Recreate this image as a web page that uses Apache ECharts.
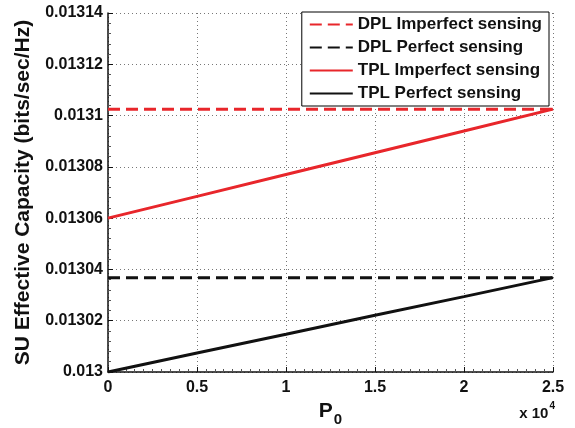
<!DOCTYPE html>
<html lang="en">
<head>
  <meta charset="UTF-8">
  <title>SU Effective Capacity</title>
  <script src="https://cdn.jsdelivr.net/npm/echarts@6/dist/echarts.min.js"></script>
</head>
<body style="margin:0">
<div id="main" style="width: 575px;height: 428px"></div>
<script>
  // P0 in units of 10^4
  const p0 = [0, 0.5, 1, 1.5, 2, 2.5];
  const dplImperfect = [0.0131025, 0.0131025, 0.0131025, 0.0131025, 0.0131025, 0.0131025];
  const dplPerfect = [0.0130368, 0.0130368, 0.0130368, 0.0130368, 0.0130368, 0.0130368];
  const tplImperfect = [0.01306, 0.0130685, 0.013077, 0.0130855, 0.013094, 0.0131025];
  const tplPerfect = [0.013, 0.0130074, 0.0130147, 0.0130221, 0.0130294, 0.0130368];
  const seriesNames = ['DPL Imperfect sensing', 'DPL Perfect sensing', 'TPL Imperfect sensing', 'TPL Perfect sensing'];

  const RED = '#e8262b';
  const font = 'Liberation Sans, Arial, sans-serif';

  function pairs(ys) {
    return p0.map(function (x, i) { return [x, ys[i]]; });
  }

  function lineSeries(name, ys, color, dashed) {
    return {
      name: name,
      type: 'line',
      data: pairs(ys),
      symbol: 'none',
      animation: false,
      lineStyle: { color: color, width: 3, type: dashed ? [12, 6] : 'solid' },
      itemStyle: { color: color }
    };
  }

  var chart = echarts.init(document.getElementById('main'));
  var option = {
    grid: { left: 108, right: 22, top: 13, bottom: 56, outerBoundsMode: 'none', containLabel: false },
    legend: {
      data: seriesNames,
      orient: 'vertical',
      right: 26,
      top: 12,
      padding: [4, 7, 4, 7],
      itemGap: 6,
      itemWidth: 43,
      itemHeight: 17,
      borderColor: '#000',
      borderWidth: 1,
      borderRadius: 0,
      backgroundColor: '#fff',
      itemStyle: { opacity: 0 },
      textStyle: { fontFamily: font, fontWeight: 'bold', fontSize: 17, color: '#111' }
    },
    xAxis: {
      type: 'value',
      min: 0,
      max: 2.5,
      interval: 0.5,
      name: '{p|P}{s|0}',
      nameLocation: 'middle',
      nameGap: 22,
      nameTextStyle: {
        rich: {
          p: { fontFamily: font, fontWeight: 'bold', fontSize: 21, color: '#111' },
          s: { fontFamily: font, fontWeight: 'bold', fontSize: 15, color: '#111', padding: [16, 0, 0, 1] }
        }
      },
      axisLine: { lineStyle: { color: '#111', width: 1.5 } },
      axisTick: { inside: true, length: 5, lineStyle: { color: '#111' } },
      minorTick: { show: true, splitNumber: 10, length: 3, lineStyle: { color: '#555' } },
      axisLabel: { fontFamily: font, fontWeight: 'bold', fontSize: 16, color: '#111', margin: 8 },
      splitLine: { show: true, lineStyle: { color: '#777', type: [1, 3], width: 1 } }
    },
    yAxis: {
      type: 'value',
      min: 0.013,
      max: 0.01314,
      interval: 0.00002,
      name: 'SU Effective Capacity (bits/sec/Hz)',
      nameLocation: 'middle',
      nameGap: 74,
      nameTextStyle: { fontFamily: font, fontWeight: 'bold', fontSize: 21, color: '#111' },
      axisLine: { lineStyle: { color: '#111', width: 1.5 } },
      axisTick: { inside: true, length: 5, lineStyle: { color: '#111' } },
      minorTick: { show: true, splitNumber: 5, length: 3, lineStyle: { color: '#555' } },
      axisLabel: {
        fontFamily: font, fontWeight: 'bold', fontSize: 16, color: '#111', margin: 5,
        formatter: function (v) { return String(+v.toFixed(5)); }
      },
      splitLine: { show: true, lineStyle: { color: '#777', type: [1, 3], width: 1 } }
    },
    graphic: [{
      type: 'text',
      right: 20,
      top: 401,
      style: {
        text: '{a|x 10}{b|4}',
        rich: {
          a: { fontFamily: font, fontWeight: 'bold', fontSize: 15, fill: '#111', padding: [7, 0, 0, 0] },
          b: { fontFamily: font, fontWeight: 'bold', fontSize: 10, fill: '#111', padding: [0, 0, 9, 1] }
        }
      }
    }],
    series: [
      lineSeries(seriesNames[0], dplImperfect, RED, true),
      lineSeries(seriesNames[1], dplPerfect, '#111', true),
      lineSeries(seriesNames[2], tplImperfect, RED, false),
      lineSeries(seriesNames[3], tplPerfect, '#111', false)
    ]
  };
  chart.setOption(option);
</script>
</body>
</html>
